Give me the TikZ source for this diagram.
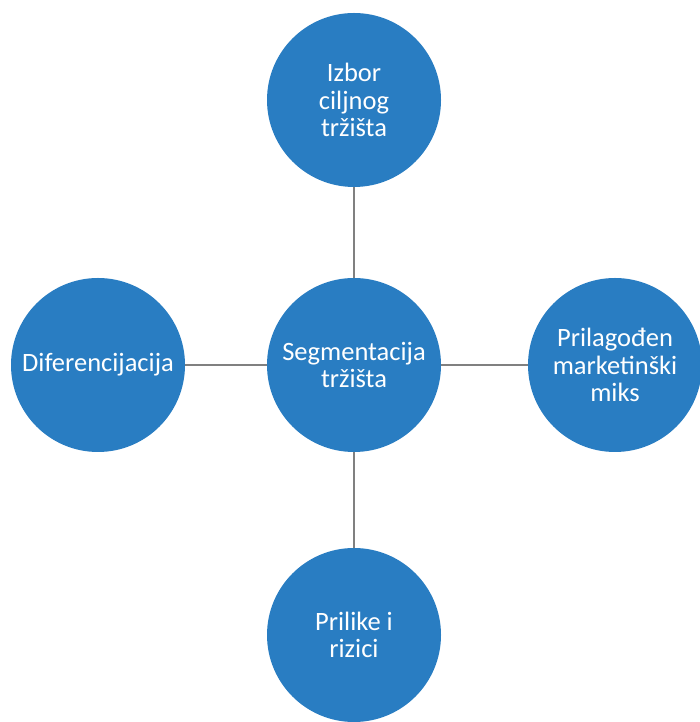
\documentclass[tikz,border=0pt]{standalone}
\usepackage{fontspec}
\setmainfont{Carlito}
\definecolor{circblue}{RGB}{41,125,194}
\definecolor{linkgray}{RGB}{128,128,128}
\tikzset{
  topic/.style={circle, fill=circblue, draw=none, minimum size=174pt, inner sep=0pt,
    text=white, align=center, font=\fontsize{26.5}{27.5}\selectfont},
  link/.style={draw=linkgray, line width=2pt}
}
\begin{document}
\begin{tikzpicture}[x=1pt,y=1pt]
  \useasboundingbox (0,0) rectangle (700,722);
  % hub and the four surrounding topics
  \node[topic] (hub)   at (354,357) {Segmentacija\\tržišta};
  \node[topic] (top)   at (354,622) {Izbor\\ciljnog\\tržišta};
  \node[topic] (left)  at (98,357)  {Diferencijacija};
  \node[topic] (right) at (615,357) {Prilagođen\\marketinški\\miks};
  \node[topic] (down)  at (354,87)  {Prilike i\\rizici};
  % spokes
  \draw[link] (hub) -- (top);
  \draw[link] (hub) -- (left);
  \draw[link] (hub) -- (right);
  \draw[link] (hub) -- (down);
\end{tikzpicture}
\end{document}
